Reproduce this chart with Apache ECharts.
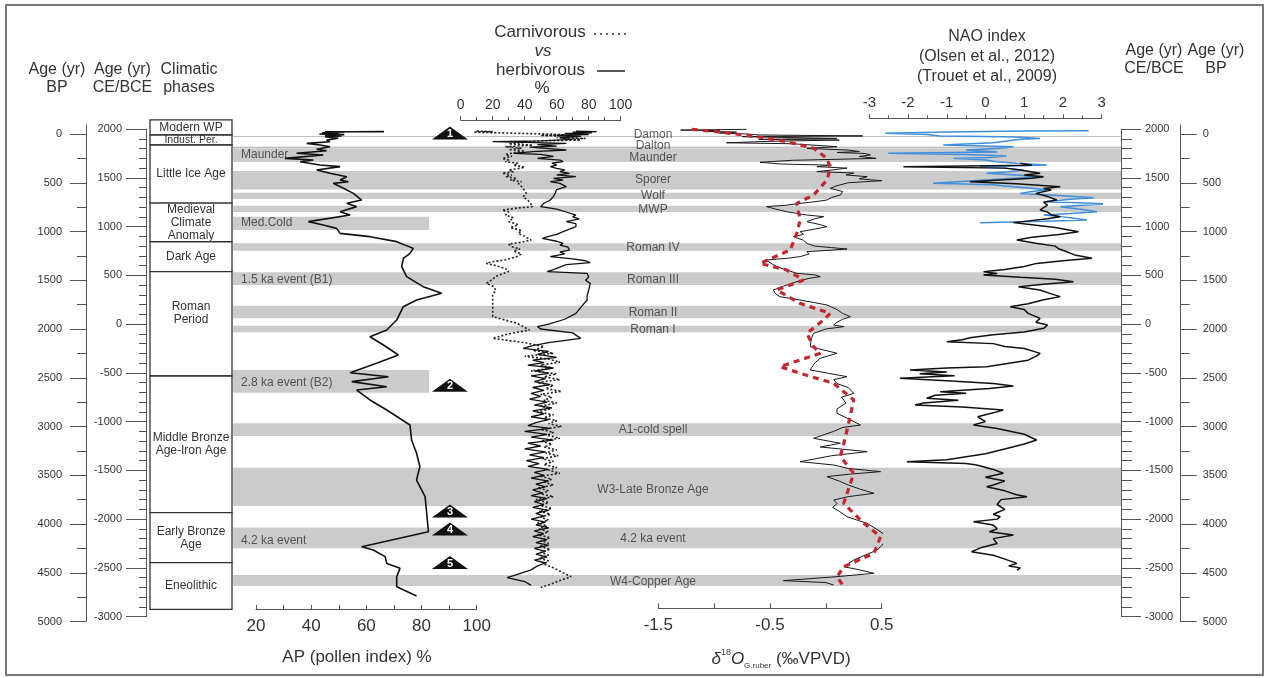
<!DOCTYPE html>
<html><head><meta charset="utf-8">
<script src="https://cdn.jsdelivr.net/npm/echarts@6/dist/echarts.min.js"></script>
<style>html,body{margin:0;padding:0;background:#fff}#c{width:1269px;height:678px}</style>
</head><body><div id="c"></div>
<script>
// ---------------- DATA (age in yr BP, value) ----------------
const apPollen = [[-24,66.4],[-23,55],[-22,45],[-18,52],[-12,44],[-6,50],[0,43],[6,52],[12,45],[20,51],[27,45],[44,49.8],[62,45.6],[79,46.8],[96,38.4],[113,43.2],[130,46.8],[157,42.0],[171,45.6],[198,34.7],[215,44.4],[250,30.5],[267,40.8],[284,36.0],[318,43.2],[335,50.5],[369,42.0],[403,46.8],[438,52.9],[472,50.5],[489,53.5],[506,48.0],[557,51.7],[609,55.3],[677,58.3],[711,52.9],[745,56.5],[797,50.5],[831,54.1],[899,39.0],[933,44.4],[968,49.2],[1019,50.5],[1053,61.3],[1104,71.0],[1173,77.0],[1224,75.8],[1275,73.4],[1361,72.8],[1463,74.6],[1566,80.6],[1634,87.3],[1703,78.2],[1771,73.4],[1908,71.0],[2010,67.4],[2079,61.3],[2164,66.2],[2267,71.6],[2352,63.7],[2448,54.1],[2489,68.0],[2540,54.7],[2592,67.4],[2626,56.5],[2728,61.3],[2831,67.4],[2985,75.8],[3139,76.4],[3275,78.2],[3412,79.4],[3549,78.2],[3720,81.3],[4079,82.5],[4233,58.3],[4267,62.5],[4335,66.8],[4404,67.4],[4455,72.2],[4540,71.0],[4643,71.0],[4739,78.2]];

const herbivorous = [[-28,72],[-24,85],[-18,70],[-12,82],[-5,65],[5,80],[15,60],[25,75],[40,62],[55,70],[70,50],[79,20],[85,40],[96,66],[110,48],[125,60],[135,43],[150,55],[164,66],[180,45],[198,33],[210,50],[230,58],[250,48],[267,62],[284,64],[300,57],[318,60],[335,56],[352,60],[369,65],[386,62],[403,68],[420,60],[438,72],[455,58],[472,64],[489,56],[506,62],[540,66],[570,60],[609,59],[640,58],[677,56],[710,52],[745,50],[770,60],[800,66],[831,72],[850,70],[870,74],[899,66],[920,72],[951,72],[975,68],[1002,64],[1030,60],[1050,55],[1070,51],[1100,60],[1122,64],[1140,62],[1160,67],[1190,68],[1210,62],[1230,65],[1258,56],[1280,70],[1300,78],[1320,81],[1340,66],[1390,58],[1412,54],[1429,79],[1470,80],[1500,78],[1532,81],[1600,80],[1660,79],[1703,79],[1760,76],[1840,72],[1900,65],[1950,55],[1976,48],[2000,50],[2040,70],[2096,75],[2140,55],[2170,45],[2199,39],[2230,55],[2260,48],[2290,60],[2320,45],[2345,52],[2370,42],[2400,58],[2430,47],[2455,55],[2480,44],[2510,53],[2540,46],[2570,56],[2600,45],[2630,52],[2660,44],[2690,50],[2720,43],[2750,54],[2780,46],[2810,57],[2840,45],[2870,52],[2900,44],[2930,55],[2960,47],[2990,42],[3020,56],[3050,40],[3080,54],[3110,44],[3140,58],[3170,42],[3200,50],[3230,40],[3260,53],[3290,43],[3320,52],[3350,41],[3380,49],[3410,42],[3440,55],[3470,46],[3500,52],[3530,44],[3560,55],[3590,47],[3620,53],[3650,45],[3680,51],[3710,44],[3740,54],[3770,46],[3800,52],[3830,45],[3860,55],[3890,47],[3920,52],[3950,44],[3980,53],[4010,47],[4040,55],[4070,46],[4100,52],[4130,45],[4160,54],[4190,47],[4220,55],[4250,46],[4280,53],[4310,47],[4340,54],[4370,46],[4400,53],[4430,48],[4470,44],[4520,35],[4550,29],[4590,40],[4630,44]];

const carnivorous = [[-30,10],[-24,20],[-18,8],[-12,26],[-5,40],[0,55],[8,65],[15,50],[25,72],[35,60],[45,78],[55,70],[62,75],[70,50],[85,40],[100,30],[115,45],[130,28],[145,38],[160,30],[175,40],[190,34],[210,28],[230,32],[250,26],[267,30],[284,28],[300,36],[320,33],[340,40],[352,37],[369,30],[386,33],[403,26],[420,32],[438,28],[455,35],[472,31],[489,38],[506,36],[540,38],[580,40],[609,41],[643,39],[680,42],[720,44],[745,45],[760,35],[780,26],[800,30],[830,28],[860,33],[899,30],[930,36],[960,31],[990,38],[1020,36],[1050,40],[1087,44],[1110,38],[1130,30],[1156,32],[1180,37],[1200,33],[1230,38],[1258,35],[1290,28],[1310,20],[1327,16],[1350,22],[1380,28],[1410,30],[1429,27],[1460,22],[1490,20],[1532,16],[1560,20],[1600,22],[1650,20],[1703,20],[1750,20],[1800,20],[1874,20],[1940,35],[2010,43],[2050,30],[2096,20],[2140,40],[2181,52],[2220,45],[2250,58],[2280,40],[2310,55],[2340,62],[2370,50],[2400,57],[2430,44],[2460,60],[2490,52],[2520,62],[2550,48],[2580,58],[2610,53],[2640,63],[2670,50],[2700,57],[2730,52],[2760,60],[2790,50],[2820,56],[2850,48],[2880,58],[2910,52],[2940,60],[2970,55],[3000,63],[3030,50],[3060,58],[3090,54],[3120,62],[3150,50],[3180,57],[3210,52],[3240,60],[3270,53],[3300,61],[3330,51],[3360,58],[3390,52],[3420,60],[3450,55],[3480,62],[3510,50],[3540,57],[3570,52],[3600,58],[3630,48],[3660,55],[3690,50],[3720,58],[3750,47],[3780,55],[3810,50],[3840,57],[3870,49],[3900,56],[3930,50],[3960,55],[3990,48],[4020,54],[4050,49],[4080,55],[4110,48],[4140,56],[4170,50],[4200,55],[4230,49],[4260,56],[4290,50],[4320,55],[4350,49],[4380,55],[4410,52],[4450,58],[4500,64],[4540,69],[4580,62],[4620,56],[4650,50]];

const d18O = [[-48,-0.71],[-40,-1.30],[-35,-0.95],[-28,-1.10],[-20,-0.80],[-10,-0.95],[0,-0.70],[10,-0.60],[20,0.33],[27,-0.75],[35,-0.40],[45,0.10],[55,-0.60],[62,0.12],[75,-0.50],[90,-0.89],[100,-0.30],[130,0.10],[147,-0.17],[165,0.20],[180,0.30],[190,0.10],[200,0.35],[215,0.40],[230,0.30],[250,0.45],[270,-0.30],[290,-0.59],[308,-0.40],[320,0.05],[335,-0.08],[350,0.19],[370,0.05],[386,-0.08],[400,0.25],[420,0.18],[438,0.37],[460,0.30],[479,0.50],[500,0.20],[530,0.10],[557,0.04],[590,0.15],[626,0.13],[650,0.05],[677,0.01],[695,-0.10],[711,-0.23],[730,-0.35],[745,-0.53],[770,-0.45],[797,-0.35],[831,-0.17],[848,-0.02],[870,-0.10],[899,-0.17],[930,-0.05],[951,0.01],[975,-0.10],[1002,-0.23],[1030,-0.20],[1053,-0.29],[1090,-0.20],[1122,-0.17],[1150,-0.10],[1165,0.05],[1180,0.19],[1195,0.00],[1207,-0.17],[1230,-0.15],[1258,-0.23],[1275,-0.35],[1292,-0.53],[1320,-0.50],[1361,-0.44],[1395,-0.35],[1429,-0.26],[1445,-0.10],[1463,-0.05],[1480,-0.15],[1515,-0.26],[1560,-0.38],[1600,-0.47],[1640,-0.45],[1669,-0.41],[1703,-0.23],[1730,-0.10],[1754,0.01],[1800,0.10],[1840,0.15],[1874,0.22],[1900,0.15],[1930,0.10],[1959,0.07],[1976,0.16],[2000,0.00],[2045,-0.11],[2100,-0.13],[2181,-0.14],[2249,0.10],[2300,-0.05],[2350,-0.10],[2420,-0.14],[2489,0.19],[2520,0.07],[2560,0.10],[2600,0.20],[2660,0.25],[2700,0.14],[2760,0.18],[2820,0.10],[2865,0.10],[2920,0.20],[2985,0.31],[3010,0.15],[3050,0.07],[3121,-0.11],[3172,0.13],[3210,-0.05],[3258,0.37],[3300,0.05],[3361,-0.23],[3395,0.07],[3430,0.20],[3463,0.49],[3490,0.20],[3514,0.01],[3560,0.12],[3600,0.20],[3640,0.30],[3685,0.43],[3720,0.20],[3754,0.07],[3790,0.10],[3830,0.06],[3870,0.12],[3925,0.19],[3960,0.28],[3993,0.37],[4050,0.45],[4096,0.51],[4164,0.54],[4220,0.50],[4267,0.46],[4320,0.35],[4369,0.25],[4410,0.20],[4438,0.16],[4470,0.30],[4506,0.43],[4540,0.10],[4581,-0.38],[4600,0.00],[4626,0.07]];

const d18OSmooth = [[-48,-1.20],[-24,-0.98],[27,-0.62],[79,-0.35],[147,-0.11],[250,0.01],[352,0.04],[472,0.01],[626,-0.11],[711,-0.26],[882,-0.23],[1019,-0.26],[1190,-0.32],[1327,-0.59],[1395,-0.35],[1498,-0.20],[1600,-0.44],[1737,-0.23],[1840,0.04],[1908,-0.02],[2045,-0.17],[2181,-0.11],[2249,-0.05],[2386,-0.41],[2455,-0.23],[2557,0.07],[2728,0.25],[3036,0.19],[3309,0.13],[3480,0.25],[3788,0.16],[3993,0.34],[4130,0.49],[4301,0.43],[4438,0.16],[4540,0.10],[4643,0.16]];

const naoOlsen = [[300,0.9],[320,1.2],[335,-2.12],[350,0.5],[370,0.9],[403,1.41],[420,1.0],[438,1.5],[455,1.2],[470,0.5],[489,-0.40],[510,0.8],[540,1.93],[560,1.5],[575,1.7],[609,1.3],[640,1.6],[677,1.84],[700,1.5],[730,1.6],[779,1.41],[800,1.6],[830,1.7],[848,1.93],[870,1.6],[909,0.72],[930,1.2],[960,1.8],[1002,2.40],[1030,1.9],[1060,1.2],[1087,0.81],[1120,1.3],[1150,1.8],[1180,1.9],[1207,2.10],[1240,2.3],[1275,2.75],[1300,2.0],[1327,1.32],[1360,1.0],[1390,0.5],[1412,-0.05],[1430,0.3],[1446,-0.05],[1470,0.9],[1490,1.8],[1515,2.27],[1540,1.5],[1566,0.85],[1600,1.4],[1640,1.7],[1668,1.93],[1700,1.5],[1740,1.1],[1771,0.64],[1800,1.0],[1840,1.1],[1891,1.41],[1930,1.3],[1960,1.6],[1993,1.50],[2030,1.0],[2060,0.2],[2090,-0.4],[2110,-0.6],[2130,-1.00],[2150,0.2],[2180,0.5],[2200,1.0],[2250,1.41],[2280,1.3],[2320,1.1],[2386,0.03],[2400,-1.0],[2421,-1.95],[2440,-1.0],[2460,-1.7],[2480,-0.8],[2506,-2.21],[2530,-1.0],[2560,0.2],[2585,0.72],[2610,0.1],[2643,-1.17],[2660,-0.5],[2680,-1.3],[2711,-1.52],[2730,-0.7],[2745,-0.66],[2760,-1.6],[2780,-1.82],[2800,-0.6],[2831,0.46],[2860,0.2],[2900,-0.2],[2950,0.0],[2985,-0.31],[3020,0.3],[3080,1.0],[3139,1.32],[3180,1.0],[3220,0.6],[3280,0.0],[3340,-1.0],[3361,-2.03],[3380,-0.5],[3395,-0.23],[3440,0.2],[3480,0.46],[3520,0.0],[3560,0.5],[3600,0.2],[3617,0.03],[3660,0.5],[3700,0.8],[3720,1.07],[3750,0.4],[3800,0.3],[3850,0.5],[3900,0.2],[3925,0.38],[3950,0.3],[3976,-0.31],[4010,0.2],[4050,0.3],[4080,0.1],[4113,0.72],[4150,0.2],[4200,0.3],[4240,-0.1],[4284,-0.36],[4320,0.2],[4360,0.5],[4404,0.81],[4430,0.6],[4450,0.9],[4472,0.81]];

const naoTrouet = [[-34,2.66],[-30,1.0],[-20,-1.0],[-7,-2.59],[5,-1.5],[20,-1.17],[28,0.5],[34,0.89],[40,1.2],[45,1.41],[55,0.9],[70,0.6],[90,0.2],[113,-1.09],[122,0.0],[130,0.72],[145,0.4],[165,-0.5],[185,0.3],[198,-2.51],[210,-0.5],[226,0.55],[240,0.1],[250,-0.83],[267,0.0],[284,0.29],[300,0.8],[318,1.58],[335,-0.14],[350,0.5],[369,0.98],[386,0.6],[403,0.03],[420,0.8],[438,1.41],[460,0.5],[480,-0.3],[506,-1.35],[520,0.2],[540,0.72],[556,1.2],[574,1.58],[590,1.2],[609,0.89],[630,1.9],[653,2.79],[670,2.2],[694,1.50],[705,2.4],[718,3.13],[730,2.5],[745,1.93],[770,2.4],[797,2.88],[815,2.2],[831,1.50],[850,2.0],[865,2.3],[882,2.62],[895,1.5],[909,-0.14]];

const phaseNames = ['Modern WP','Indust. Per.','Little Ice Age','Medieval\nClimate\nAnomaly','Dark Age','Roman\nPeriod','Middle Bronze\nAge-Iron Age','Early Bronze\nAge','Eneolithic'];
const phaseBounds = [-144, 10, 113, 708, 1105, 1412, 2482, 3884, 4397, 4875];

const bandStart = [22, 132, 145, 380, 602, 735, 848, 1121, 1419, 1761, 1966, 2421, 2967, 3422, 4037, 4523];
const bandEnd   = [32, 140, 287, 568, 667, 800, 985, 1197, 1549, 1890, 2034, 2653, 3097, 3815, 4249, 4636];
const bandShort = [0, 0, 0, 0, 0, 0, 1, 0, 0, 0, 0, 1, 0, 0, 0, 0];
const bandThin  = [1, 1, 0, 0, 0, 0, 0, 0, 0, 0, 0, 0, 0, 0, 0, 0];

const eventNames = ['Damon','Dalton','Maunder','Sporer','Wolf','MWP','Roman IV','Roman III','Roman II','Roman I','A1-cold spell','W3-Late Bronze Age','4.2 ka event','W4-Copper Age'];
const eventAge   = [10, 120, 239, 472, 636, 780, 1166, 1497, 1833, 2003, 3036, 3644, 4154, 4592];
const leftEventNames = ['Maunder','Med.Cold','1.5 ka event (B1)','2.8 ka event (B2)','4.2 ka event'];
const leftEventAge   = [215, 913, 1497, 2554, 4174];

const triNames = ['1','2','3','4','5'];
const triAge   = [-10, 2578, 3867, 4051, 4395];

const bpTicks = [0,500,1000,1500,2000,2500,3000,3500,4000,4500,5000];
const bpMinorTicks = [250,750,1250,1750,2250,2750,3250,3750,4250,4750];

// ---------------- LAYOUT ----------------
const PY0 = 134, K = 0.0975;                 // pixel of 0 BP, px per year
const bpAt = px => (px - PY0) / K;
const FONT = '"Liberation Sans", Arial, sans-serif';
const TXT = '#333';
const AX = '#555';

function grid(left, width, top, bottom) {
  return {left, width, top, height: bottom - top, containLabel: false, outerBoundsMode: 'none', show: false};
}
const grids = [
  grid(256, 220.7, 124, 609),      // 0 AP
  grid(460.7, 160, 120, 620),      // 1 carn/herb
  grid(658.3, 223.4, 124, 608.3),  // 2 d18O
  grid(869.3, 232.4, 118.3, 620),  // 3 NAO
  grid(233, 888, 100, 640),        // 4 bands
  grid(150, 82, 100, 640),         // 5 phases
  grid(86, 1094.7, 125, 621.5),    // 6 BP axes
  grid(146, 975, 129.1, 616.6)     // 7 CE axes
];
const yHidden = i => ({type:'value', gridIndex:i, show:false, inverse:true,
  min: bpAt(grids[i].top), max: bpAt(grids[i].top + grids[i].height)});
const xHidden = i => ({type:'value', gridIndex:i, show:false, min:0, max:1});

const lab = (size, extra) => Object.assign({color: TXT, fontSize: size, fontFamily: FONT}, extra || {});
const axLine = {show:true, onZero:false, lineStyle:{color:AX}};

const xAxes = [
  {type:'value', gridIndex:0, position:'bottom', min:20, max:100, interval:20,
   axisLine:axLine, axisTick:{show:true, inside:true, length:4, lineStyle:{color:AX}},
   minorTick:{show:true, splitNumber:2, length:4, lineStyle:{color:AX}}, splitLine:{show:false}, minorSplitLine:{show:false},
   axisLabel: lab(17, {margin:9})},
  {type:'value', gridIndex:1, position:'top', min:0, max:100, interval:20,
   axisLine:axLine, axisTick:{show:true, length:4, lineStyle:{color:AX}},
   minorTick:{show:true, splitNumber:2, length:3, lineStyle:{color:AX}}, splitLine:{show:false},
   axisLabel: lab(14, {margin:8})},
  {type:'value', gridIndex:2, position:'bottom', min:-1.5, max:0.5, interval:1,
   axisLine:axLine, axisTick:{show:true, inside:true, length:5, lineStyle:{color:AX}},
   minorTick:{show:true, splitNumber:2, length:5, lineStyle:{color:AX}}, splitLine:{show:false},
   axisLabel: lab(17, {margin:9, formatter: v => v.toFixed(1)})},
  {type:'value', gridIndex:3, position:'top', min:-3, max:3, interval:1,
   axisLine:axLine, axisTick:{show:true, length:4, lineStyle:{color:AX}},
   minorTick:{show:true, splitNumber:2, length:3, lineStyle:{color:AX}}, splitLine:{show:false},
   axisLabel: lab(15, {margin:8})},
  xHidden(4), xHidden(5), xHidden(6), xHidden(7)
];

const bpAxis = (pos, major) => ({
  type:'value', gridIndex:6, position:pos, inverse:true, min: bpAt(125), max: 5000,
  axisLine:{show: major, onZero:false, lineStyle:{color:AX}},
  axisTick:{show:true, length: major ? 16 : 9, customValues: major ? bpTicks : bpMinorTicks, lineStyle:{color:AX}},
  axisLabel: major ? lab(11, {margin: pos === 'left' ? 24 : 22, customValues: bpTicks, formatter: v => String(v)}) : {show:false},
  splitLine:{show:false}
});
const ceAxis = (pos) => ({
  type:'value', gridIndex:7, position:pos, min:-3000, max:2000, interval:500,
  axisLine:{show:true, onZero:false, lineStyle:{color:AX}},
  axisTick:{show:true, length:20, lineStyle:{color:AX}},
  minorTick:{show:true, splitNumber:5, length: pos === 'left' ? 7 : 11, lineStyle:{color:AX}},
  axisLabel: lab(11, {margin: 24, formatter: v => String(v)}),
  splitLine:{show:false}, minorSplitLine:{show:false}
});
const yAxes = [yHidden(0), yHidden(1), yHidden(2), yHidden(3), yHidden(4), yHidden(5),
  bpAxis('left', true), bpAxis('left', false), bpAxis('right', true), bpAxis('right', false),
  ceAxis('left'), ceAxis('right')];

// bands as mark areas
const SHORT_FRAC = (429 - 233) / 888;
const bandAreas = bandStart.map((s, i) => [
  {xAxis: 0, yAxis: s, itemStyle: {color: bandThin[i] ? '#a9a9a9' : '#cbcbcb'}},
  {xAxis: bandShort[i] ? SHORT_FRAC : 1, yAxis: bandEnd[i]}
]);
const phaseAreas = phaseNames.map((n, i) => [
  {name: n, xAxis: 0, yAxis: phaseBounds[i],
   label: i === 5 ? {offset:[0,-11]} : (i === 1 ? {fontSize: 10.5} : {})},
  {xAxis: 1, yAxis: phaseBounds[i + 1]}
]);
const CENTER_X = (653 - 233) / 888, LEFT_X = (241 - 233) / 888;

const swap = arr => arr.map(d => [d[1], d[0]]);
const lineS = (xi, data, color, width, type, z) => ({
  type:'line', xAxisIndex:xi, yAxisIndex:xi, data: swap(data), symbol:'none', showSymbol:false,
  clip:false, silent:true, z: z || 3, lineStyle:{color, width, type: type || 'solid'}
});

const option = {
  animation: false,
  backgroundColor: '#fff',
  grid: grids, xAxis: xAxes, yAxis: yAxes,
  series: [
    {type:'scatter', xAxisIndex:4, yAxisIndex:4, z:1, silent:true, symbolSize:0,
     data: eventNames.map((n, i) => ({name:n, value:[CENTER_X, eventAge[i]]})),
     label:{show:true, position:'inside', formatter:'{b}', color:'#333', fontSize:12, fontFamily:FONT},
     markArea:{silent:true, itemStyle:{color:'#cbcbcb', opacity:1}, label:{show:false}, data: bandAreas}},
    {type:'scatter', xAxisIndex:4, yAxisIndex:4, z:2, silent:true, symbolSize:0,
     data: leftEventNames.map((n, i) => ({name:n, value:[LEFT_X, leftEventAge[i]]})),
     label:{show:true, position:'right', distance:0, formatter:'{b}', color:'#333', fontSize:12, fontFamily:FONT}},
    {type:'scatter', xAxisIndex:5, yAxisIndex:5, z:2, silent:true, symbolSize:0, data:[],
     markArea:{silent:true, itemStyle:{color:'#fff', opacity:1, borderColor:'#333', borderWidth:1.3},
       label:{show:true, position:'inside', color:'#333', fontSize:12, lineHeight:13, fontFamily:FONT},
       data: phaseAreas}},
    lineS(0, apPollen, '#111', 1.6),
    {type:'scatter', xAxisIndex:0, yAxisIndex:0, z:4, silent:true, symbol:'triangle', symbolSize:[36,13],
     itemStyle:{color:'#111', opacity:1},
     data: triNames.map((n, i) => ({name:n, value:[90.3, triAge[i]]})),
     label:{show:true, position:'inside', formatter:'{b}', color:'#fff', fontSize:11, fontWeight:'bold', offset:[0,1], fontFamily:FONT}},
    lineS(1, carnivorous, '#222', 1.6, [2,2]),
    lineS(1, herbivorous, '#111', 1.3),
    lineS(2, d18O, '#1a1a1a', 1.0),
    lineS(2, d18OSmooth, '#c4262e', 3.2, [6,5], 4),
    lineS(3, naoTrouet, '#3f8fdc', 1.5),
    lineS(3, naoOlsen, '#111', 1.5, 'solid', 4)
  ],
  graphic: {elements: [
    {type:'rect', shape:{x:6, y:5, width:1257, height:670}, style:{fill:'none', stroke:'#777', lineWidth:2}, silent:true},
    {type:'text', x:57, y:79, style:{text:'Age (yr)\nBP', fontSize:16, lineHeight:18, fill:TXT, fontFamily:FONT, align:'center', verticalAlign:'middle'}},
    {type:'text', x:122.5, y:79, style:{text:'Age (yr)\nCE/BCE', fontSize:16, lineHeight:18, fill:TXT, fontFamily:FONT, align:'center', verticalAlign:'middle'}},
    {type:'text', x:189, y:79, style:{text:'Climatic\nphases', fontSize:16, lineHeight:18, fill:TXT, fontFamily:FONT, align:'center', verticalAlign:'middle'}},
    {type:'text', x:1154, y:59.5, style:{text:'Age (yr)\nCE/BCE', fontSize:16, lineHeight:18, fill:TXT, fontFamily:FONT, align:'center', verticalAlign:'middle'}},
    {type:'text', x:1216, y:59.5, style:{text:'Age (yr)\nBP', fontSize:16, lineHeight:18, fill:TXT, fontFamily:FONT, align:'center', verticalAlign:'middle'}},
    {type:'text', x:987, y:57, style:{text:'NAO index\n(Olsen et al., 2012)\n(Trouet et al., 2009)', fontSize:16, lineHeight:20, fill:TXT, fontFamily:FONT, align:'center', verticalAlign:'middle'}},
    {type:'text', x:540, y:32, style:{text:'Carnivorous', fontSize:17, fill:TXT, fontFamily:FONT, align:'center', verticalAlign:'middle'}},
    {type:'line', shape:{x1:594, y1:34, x2:626, y2:34}, style:{stroke:'#333', lineWidth:1.6, lineDash:[2,4]}},
    {type:'text', x:543, y:51, style:{text:'vs', fontSize:17, fontStyle:'italic', fill:TXT, fontFamily:FONT, align:'center', verticalAlign:'middle'}},
    {type:'text', x:540.5, y:70, style:{text:'herbivorous', fontSize:17, fill:TXT, fontFamily:FONT, align:'center', verticalAlign:'middle'}},
    {type:'line', shape:{x1:597, y1:71, x2:625, y2:71}, style:{stroke:'#222', lineWidth:1.5}},
    {type:'text', x:542, y:88, style:{text:'%', fontSize:17, fill:TXT, fontFamily:FONT, align:'center', verticalAlign:'middle'}},
    {type:'text', x:357, y:657, style:{text:'AP (pollen index) %', fontSize:17, fill:TXT, fontFamily:FONT, align:'center', verticalAlign:'middle'}},
    {type:'text', x:781, y:659, style:{
      text:'{i|δ}{sup|18}{i|O}{sub|G.ruber}{n| (‰VPVD)}', fill:TXT, fontFamily:FONT, align:'center', verticalAlign:'middle',
      rich:{
        i:{fontSize:17, fontStyle:'italic', fontFamily:FONT, fill:TXT, lineHeight:22},
        n:{fontSize:17, fontFamily:FONT, fill:TXT, lineHeight:22},
        sup:{fontSize:9, fontFamily:FONT, fill:TXT, verticalAlign:'top', lineHeight:22, padding:[0,0,10,0]},
        sub:{fontSize:8, fontFamily:FONT, fill:TXT, verticalAlign:'bottom', lineHeight:22, padding:[8,0,0,0]}
      }}}
  ]}
};

const chart = echarts.init(document.getElementById('c'), null, {renderer:'canvas'});
chart.setOption(option);
</script></body></html>
